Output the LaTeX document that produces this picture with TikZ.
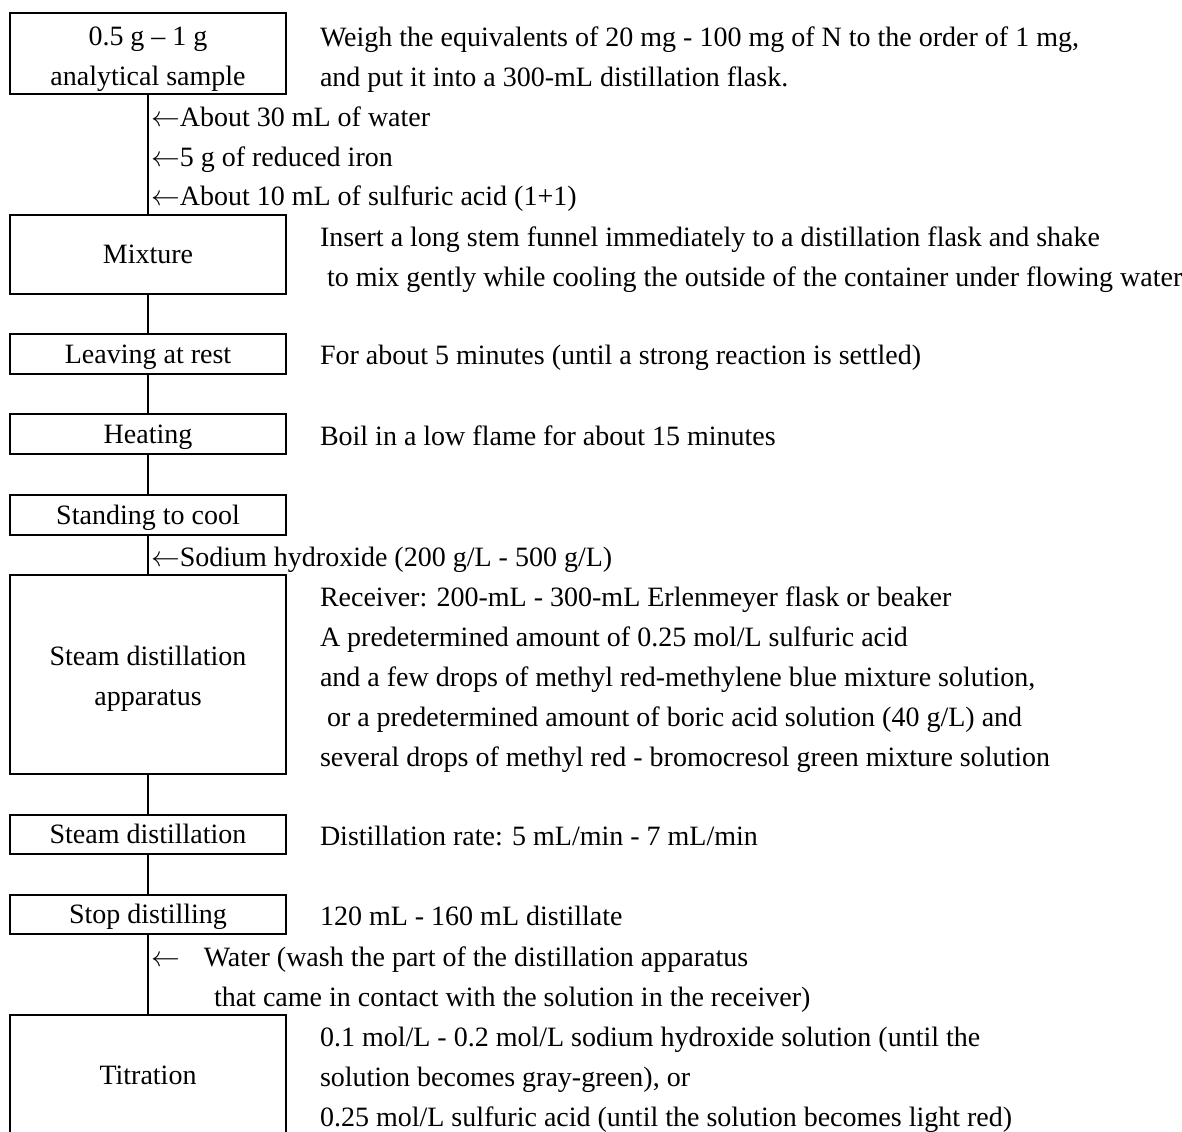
\documentclass[tikz,border=0pt]{standalone}
\usepackage{fontspec}
\setmainfont{Liberation Serif}
\begin{document}
\begin{tikzpicture}[x=0.5pt, y=-0.5pt, line width=1pt,
    every node/.style={font=\fontsize{14}{20}\selectfont, inner sep=0pt},
    stepbox/.style={draw, minimum width=138pt, align=center},
    onebox/.style={stepbox, text height=11.5pt, text depth=2.5pt},
    note/.style={anchor=west, text height=11.5pt, text depth=2.5pt},
    notes/.style={anchor=west, align=left}]
  \useasboundingbox (0,0) rectangle (1182,1131);
  \clip (0,0) rectangle (1182,1131);
  % steps
  \node[stepbox, minimum height=40.5pt] (sample) at (148,53.5) {\rule{0pt}{15.5pt}0.5 g – 1 g\\analytical sample};
  \node[onebox, minimum height=39.5pt] (mixture) at (148,254.5) {Mixture};
  \node[onebox, minimum height=20pt] (rest) at (148,354) {Leaving at rest};
  \node[onebox, minimum height=20pt] (heating) at (148,434) {Heating};
  \node[onebox, minimum height=20pt] (cool) at (148,515) {Standing to cool};
  \node[stepbox, minimum height=99.5pt] (apparatus) at (148,674.5) {\rule{0pt}{13.5pt}Steam distillation\\apparatus};
  \node[onebox, minimum height=19.5pt] (steam) at (148,834.5) {Steam distillation};
  \node[onebox, minimum height=19.5pt] (stop) at (148,914.5) {Stop distilling};
  \node[onebox, minimum height=60pt] (titration) at (148,1075) {Titration};
  \draw (sample) -- (mixture);
  \draw (mixture) -- (rest);
  \draw (rest) -- (heating);
  \draw (heating) -- (cool);
  \draw (cool) -- (apparatus);
  \draw (apparatus) -- (steam);
  \draw (steam) -- (stop);
  \draw (stop) -- (titration);
  % additions
  \node[note] (water) at (150,117) {$\leftarrow$About 30 mL of water};
  \node[note] (iron) at (150,157) {$\leftarrow$5 g of reduced iron};
  \node[note] (acid) at (150,196) {$\leftarrow$About 10 mL of sulfuric acid (1+1)};
  \node[note] (naoh) at (150,557) {$\leftarrow$Sodium hydroxide (200 g/L - 500 g/L)};
  \node[notes] (wash) at (150,980) {$\leftarrow$\hspace{12pt}Water (wash the part of the distillation apparatus\\\hspace{31.5pt}that came in contact with the solution in the receiver)};
  % remarks
  \node[notes] (weigh) at (319,59.5) {Weigh the equivalents of 20 mg - 100 mg of N to the order of 1 mg,\\and put it into a 300-mL distillation flask.};
  \node[notes] (funnel) at (319,260) {Insert a long stem funnel immediately to a distillation flask and shake\\\hspace{3.5pt}to mix gently while cooling the outside of the container under flowing water};
  \node[note] (minutes) at (319,355) {For about 5 minutes (until a strong reaction is settled)};
  \node[note] (boil) at (319,436) {Boil in a low flame for about 15 minutes};
  \node[notes] (receiver) at (319,680) {Receiver: 200-mL - 300-mL Erlenmeyer flask or beaker\\A predetermined amount of 0.25 mol/L sulfuric acid\\and a few drops of methyl red-methylene blue mixture solution,\\\hspace{3.5pt}or a predetermined amount of boric acid solution (40 g/L) and\\several drops of methyl red - bromocresol green mixture solution};
  \node[note] (rate) at (319,836) {Distillation rate: 5 mL/min - 7 mL/min};
  \node[note] (distillate) at (319,916) {120 mL - 160 mL distillate};
  \node[notes] (indicator) at (319,1080) {0.1 mol/L - 0.2 mol/L sodium hydroxide solution (until the\\solution becomes gray-green), or\\0.25 mol/L sulfuric acid (until the solution becomes light red)};
\end{tikzpicture}
\end{document}
